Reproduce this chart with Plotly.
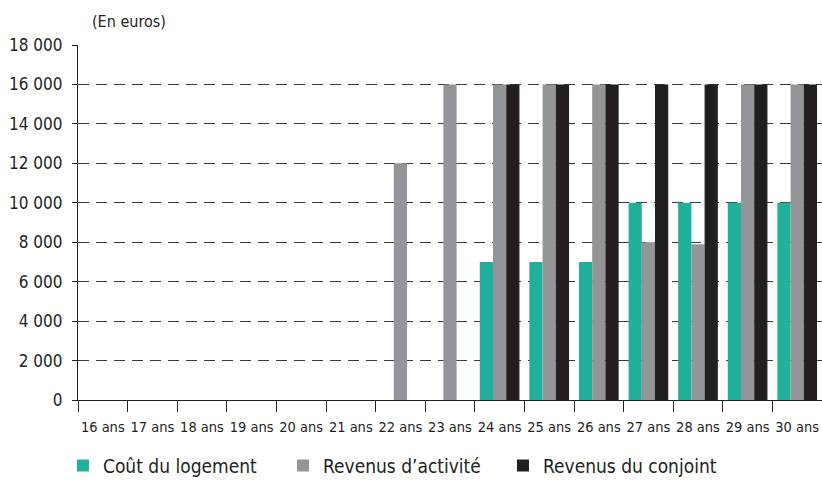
import plotly.graph_objects as go

# Ages (catégories de l'axe horizontal)
ages = ["16 ans", "17 ans", "18 ans", "19 ans", "20 ans", "21 ans", "22 ans", "23 ans",
        "24 ans", "25 ans", "26 ans", "27 ans", "28 ans", "29 ans", "30 ans"]

# Montants annuels en euros
cout_logement = [None, None, None, None, None, None, None, None,
                 7000, 7000, 7000, 10000, 10000, 10000, 10000]
revenus_activite = [None, None, None, None, None, None, 12000, 16000,
                    16000, 16000, 16000, 8000, 7900, 16000, 16000]
revenus_conjoint = [None, None, None, None, None, None, None, None,
                    16000, 16000, 16000, 16000, 16000, 16000, 16000]

y_ticks = [0, 2000, 4000, 6000, 8000, 10000, 12000, 14000, 16000, 18000]

FONT = "DejaVu Sans Condensed, Liberation Sans Narrow, Roboto, sans-serif"
TEAL = "#21B09B"
GREY = "#939598"
BLACK = "#231F20"

fig = go.Figure()
fig.add_trace(go.Bar(x=ages, y=cout_logement, name="Coût du logement",
                     marker=dict(color=TEAL, line=dict(width=0))))
fig.add_trace(go.Bar(x=ages, y=revenus_activite, name="Revenus d’activité",
                     marker=dict(color=GREY, line=dict(width=0))))
fig.add_trace(go.Bar(x=ages, y=revenus_conjoint, name="Revenus du conjoint",
                     marker=dict(color=BLACK, line=dict(width=0))))

fig.update_layout(
    width=822, height=484,
    margin=dict(l=78, r=0, t=45, b=84, autoexpand=False),
    paper_bgcolor="white", plot_bgcolor="white",
    barmode="group", bargap=0.2, bargroupgap=0,
    separators=", ",
    font=dict(family=FONT, size=16, color=BLACK),
    showlegend=True,
    legend=dict(orientation="h", x=-0.0202, xanchor="left", y=-0.185, yanchor="middle",
                entrywidth=175, entrywidthmode="pixels",
                font=dict(family=FONT, size=19, color=BLACK),
                bgcolor="rgba(0,0,0,0)"),
    annotations=[dict(text="(En euros)", xref="paper", yref="paper",
                      x=0.016, y=1.065, xanchor="left", yanchor="middle",
                      showarrow=False, font=dict(family=FONT, size=16, color=BLACK))],
)

fig.update_xaxes(
    type="category", range=[-0.5, 14.5], automargin=False,
    showline=True, linecolor=BLACK, linewidth=1.3,
    ticks="outside", tickson="boundaries", ticklen=11, tickcolor=BLACK, tickwidth=1.3,
    tickangle=0, ticklabelstandoff=13,
    showgrid=False, tickfont=dict(family=FONT, size=14.5, color=BLACK),
)
fig.update_yaxes(
    range=[0, 18000], tickvals=y_ticks, tickformat=",d", automargin=False,
    showline=True, linecolor=BLACK, linewidth=1.3,
    ticks="outside", ticklen=5, tickcolor=BLACK, tickwidth=1.3, ticklabelstandoff=6,
    showgrid=True, gridcolor="#3a3a3a", gridwidth=1, griddash="11px,7px",
    zeroline=False, tickfont=dict(family=FONT, size=17, color=BLACK),
)

fig.write_html("out.html")
